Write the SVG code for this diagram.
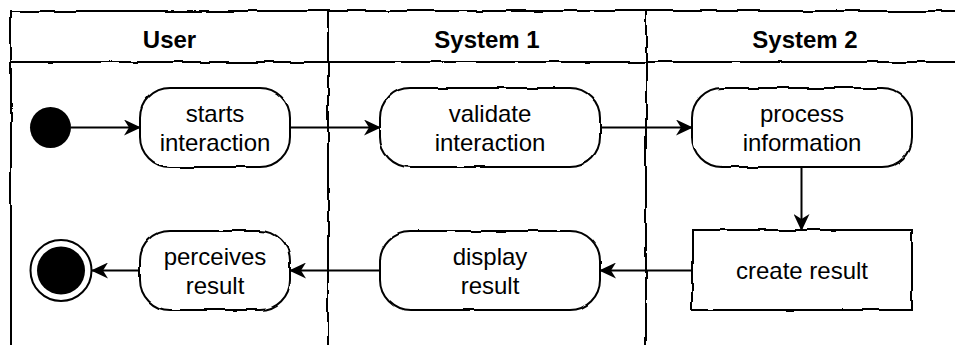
<svg xmlns="http://www.w3.org/2000/svg" width="955" height="345" viewBox="0 0 955 345">
  <defs>
    <style>
      .lane { fill: none; stroke: #000; stroke-width: 2; stroke-linecap: round; }
      .node { fill: #fff; stroke: #000; stroke-width: 2; }
      .edge { fill: none; stroke: #000; stroke-width: 2; }
      .title { font-family: "Liberation Sans", Arial, sans-serif; font-size: 24px; font-weight: bold; fill: #000; text-anchor: middle; }
      .label { font-family: "Liberation Sans", Arial, sans-serif; font-size: 24px; fill: #000; text-anchor: middle; }
    </style>
    <!-- hand-drawn wobble for outlines -->
    <filter id="rough" filterUnits="userSpaceOnUse" x="0" y="0" width="955" height="345">
      <feTurbulence type="fractalNoise" baseFrequency="0.035" numOctaves="2" seed="3" result="noise"/>
      <feDisplacementMap in="SourceGraphic" in2="noise" scale="3.5" xChannelSelector="R" yChannelSelector="G"/>
    </filter>
    <marker id="arrow" viewBox="0 0 17 16" refX="16" refY="8" markerWidth="17" markerHeight="16" markerUnits="userSpaceOnUse" orient="auto">
      <path d="M0,0 L17,8 L0,16 L5,8 Z" fill="#000"/>
    </marker>
  </defs>

  <rect width="955" height="345" fill="#fff"/>

  <!-- swimlanes -->
  <g id="lanes" filter="url(#rough)">
    <path class="lane" d="M11,11 L960,11"/>
    <path class="lane" d="M11,62 L960,62"/>
    <path class="lane" d="M11,11 L11,350"/>
    <path class="lane" d="M328,11 L328,350"/>
    <path class="lane" d="M646,11 L646,350"/>
  </g>
  <g id="lane-user"><text class="title" x="169.5" y="48">User</text></g>
  <g id="lane-system1"><text class="title" x="487" y="48">System 1</text></g>
  <g id="lane-system2"><text class="title" x="805" y="48">System 2</text></g>

  <!-- connectors -->
  <g id="connectors">
    <path class="edge" d="M71,127.5 L140,127.5" marker-end="url(#arrow)"/>
    <path class="edge" d="M290,127.5 L380,127.5" marker-end="url(#arrow)"/>
    <path class="edge" d="M600,127.5 L692,127.5" marker-end="url(#arrow)"/>
    <path class="edge" d="M801.5,167 L801.5,230" marker-end="url(#arrow)"/>
    <path class="edge" d="M692,270.5 L600,270.5" marker-end="url(#arrow)"/>
    <path class="edge" d="M380,270.5 L290,270.5" marker-end="url(#arrow)"/>
    <path class="edge" d="M140,270.5 L92,270.5" marker-end="url(#arrow)"/>
  </g>

  <!-- nodes -->
  <g id="start">
    <circle cx="50.5" cy="127.5" r="20.5" fill="#000"/>
  </g>

  <g id="starts-interaction">
    <rect class="node" x="140" y="88" width="150" height="79" rx="30" ry="30" filter="url(#rough)"/>
    <text class="label" x="215" y="122">starts</text>
    <text class="label" x="215" y="150.5">interaction</text>
  </g>

  <g id="validate-interaction">
    <rect class="node" x="380" y="88" width="220" height="79" rx="30" ry="30" filter="url(#rough)"/>
    <text class="label" x="490" y="122">validate</text>
    <text class="label" x="490" y="150.5">interaction</text>
  </g>

  <g id="process-information">
    <rect class="node" x="692" y="88" width="220" height="79" rx="30" ry="30" filter="url(#rough)"/>
    <text class="label" x="802" y="122">process</text>
    <text class="label" x="802" y="150.5">information</text>
  </g>

  <g id="create-result">
    <rect class="node" x="692" y="230" width="220" height="80" filter="url(#rough)"/>
    <text class="label" x="802" y="279">create result</text>
  </g>

  <g id="display-result">
    <rect class="node" x="380" y="231" width="220" height="79" rx="30" ry="30" filter="url(#rough)"/>
    <text class="label" x="490" y="265">display</text>
    <text class="label" x="490" y="293.5">result</text>
  </g>

  <g id="perceives-result">
    <rect class="node" x="140" y="231" width="150" height="79" rx="30" ry="30" filter="url(#rough)"/>
    <text class="label" x="215" y="265">perceives</text>
    <text class="label" x="215" y="293.5">result</text>
  </g>

  <g id="end">
    <circle cx="61" cy="270.5" r="30.5" fill="#fff" stroke="#000" stroke-width="2"/>
    <circle cx="61" cy="270.5" r="24" fill="#000"/>
  </g>
</svg>
